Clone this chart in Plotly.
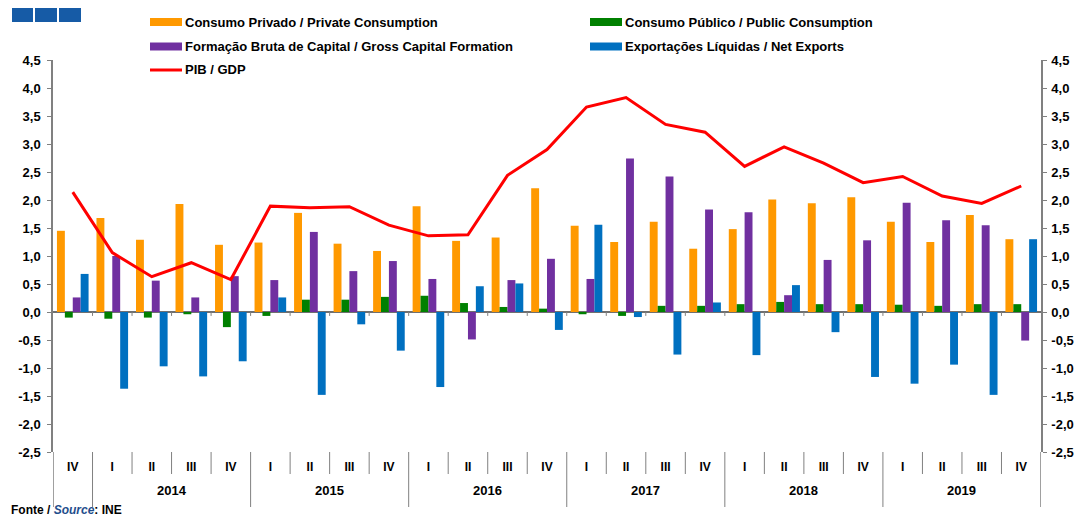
import plotly.graph_objects as go

quarters = ["IV", "I", "II", "III", "IV", "I", "II", "III", "IV", "I", "II", "III", "IV",
            "I", "II", "III", "IV", "I", "II", "III", "IV", "I", "II", "III", "IV"]
years = ["2014", "2015", "2016", "2017", "2018", "2019"]

private_consumption = [1.45, 1.68, 1.29, 1.93, 1.20, 1.24, 1.77, 1.22, 1.09, 1.89, 1.27, 1.33, 2.21,
                       1.54, 1.25, 1.61, 1.13, 1.48, 2.01, 1.94, 2.05, 1.61, 1.25, 1.73, 1.30]
public_consumption = [-0.10, -0.12, -0.10, -0.04, -0.27, -0.07, 0.22, 0.22, 0.27, 0.29, 0.16, 0.09, 0.06,
                      -0.04, -0.07, 0.11, 0.11, 0.14, 0.18, 0.14, 0.14, 0.13, 0.11, 0.14, 0.14]
capital_formation = [0.26, 1.00, 0.56, 0.26, 0.64, 0.57, 1.43, 0.73, 0.91, 0.59, -0.49, 0.57, 0.95,
                     0.59, 2.74, 2.42, 1.83, 1.78, 0.30, 0.93, 1.28, 1.95, 1.64, 1.55, -0.51]
net_exports = [0.68, -1.37, -0.97, -1.15, -0.88, 0.26, -1.48, -0.22, -0.69, -1.34, 0.46, 0.51, -0.32,
               1.56, -0.09, -0.76, 0.17, -0.77, 0.48, -0.36, -1.16, -1.28, -0.94, -1.48, 1.30]
gdp = [2.14, 1.06, 0.63, 0.88, 0.58, 1.89, 1.86, 1.88, 1.55, 1.36, 1.38, 2.44, 2.90,
       3.66, 3.83, 3.35, 3.21, 2.60, 2.95, 2.66, 2.31, 2.42, 2.07, 1.94, 2.25]

ytick_vals = [4.5, 4.0, 3.5, 3.0, 2.5, 2.0, 1.5, 1.0, 0.5, 0.0, -0.5, -1.0, -1.5, -2.0, -2.5]
ytick_text = ["4,5", "4,0", "3,5", "3,0", "2,5", "2,0", "1,5", "1,0", "0,5", "0,0",
              "-0,5", "-1,0", "-1,5", "-2,0", "-2,5"]

names = ["Consumo Privado / Private Consumption", "Consumo Público / Public Consumption",
         "Formação Bruta de Capital / Gross Capital Formation", "Exportações Líquidas / Net Exports",
         "PIB / GDP"]
colors = ["#FF9900", "#008000", "#7030A0", "#0070C0", "#FF0000"]

FONT = "Liberation Sans"
W, H = 1084, 517
ML, MR, MT, MB = 53, 43, 60, 65
PW, PH = W - ML - MR, H - MT - MB


def px_x(p):
    return (p - ML) / PW


def px_y(p):
    return (H - MB - p) / PH


idx = list(range(len(quarters)))

fig = go.Figure()
for vals, name, col in zip([private_consumption, public_consumption, capital_formation, net_exports],
                           names[:4], colors[:4]):
    fig.add_trace(go.Bar(x=idx, y=vals, name=name, showlegend=False,
                         marker=dict(color=col, line=dict(width=0))))
fig.add_trace(go.Scatter(x=idx, y=gdp, name=names[4], mode="lines", showlegend=False,
                         line=dict(color=colors[4], width=3)))
# mirror axis on the right
fig.add_trace(go.Scatter(x=idx, y=gdp, yaxis="y2", mode="lines", line=dict(width=0),
                         opacity=0, showlegend=False, hoverinfo="skip"))

n = len(quarters)
shapes = []
annotations = []
# separators in the category label area
for i in range(n - 1):
    b = i + 0.5
    year_boundary = (i % 4 == 0)
    shapes.append(dict(type="line", xref="x", yref="paper", x0=b, x1=b, y0=px_y(452),
                       y1=px_y(507) if year_boundary else px_y(474),
                       line=dict(color="#808080", width=1)))
    # small ticks on zero line
    shapes.append(dict(type="line", xref="x", yref="y", x0=b, x1=b, y0=0, y1=-0.07,
                       line=dict(color="#808080", width=1)))
# axis extensions into label area
for xe in [-0.5, n - 0.5]:
    shapes.append(dict(type="line", xref="x", yref="paper", x0=xe, x1=xe, y0=0, y1=px_y(507),
                       line=dict(color="#808080", width=1.5)))
# logo squares
for x0, x1 in [(12, 33), (35, 57), (59, 81)]:
    shapes.append(dict(type="rect", xref="paper", yref="paper", x0=px_x(x0), x1=px_x(x1),
                       y0=px_y(22), y1=px_y(8), fillcolor="#165BA6", line=dict(width=0)))

# legend (drawn manually to match the two-column layout)
legend_pos = [(150, 22), (590, 22), (150, 46.5), (590, 46.5), (150, 70)]
for k, (name, col) in enumerate(zip(names, colors)):
    lx, ly = legend_pos[k]
    if k < 4:
        shapes.append(dict(type="rect", xref="paper", yref="paper", x0=px_x(lx), x1=px_x(lx + 32),
                           y0=px_y(ly + 4), y1=px_y(ly - 4), fillcolor=col, line=dict(width=0)))
    else:
        shapes.append(dict(type="line", xref="paper", yref="paper", x0=px_x(lx), x1=px_x(lx + 32),
                           y0=px_y(ly), y1=px_y(ly), line=dict(color=col, width=3)))
    annotations.append(dict(x=px_x(lx + 33), y=px_y(ly), xref="paper", yref="paper", text=name,
                            xanchor="left", yanchor="middle", showarrow=False,
                            font=dict(family=FONT, size=13, color="black", weight="bold")))

for k, yr in enumerate(years):
    annotations.append(dict(x=2.5 + 4 * k, y=px_y(490), xref="x", yref="paper", text=yr,
                            showarrow=False, yanchor="middle",
                            font=dict(family=FONT, size=13, color="black", weight="bold")))
annotations.append(dict(x=px_x(9), y=px_y(510), xref="paper", yref="paper", xanchor="left",
                        yanchor="middle", showarrow=False,
                        text="Fonte / <i><span style='color:#1F4E8C'>Source</span></i>: INE",
                        font=dict(family=FONT, size=12, color="black", weight="bold")))

fig.update_layout(
    width=W, height=H,
    margin=dict(l=ML, r=MR, t=MT, b=MB),
    paper_bgcolor="white", plot_bgcolor="white",
    barmode="group", bargap=0.2, bargroupgap=0,
    showlegend=False,
    xaxis=dict(range=[-0.5, n - 0.5], tickmode="array", tickvals=idx, ticktext=quarters,
               showgrid=False, zeroline=False, showline=False, ticks="",
               ticklabelstandoff=6, automargin=False,
               tickfont=dict(family=FONT, size=12, color="black", weight="bold")),
    yaxis=dict(range=[-2.5, 4.5], tickmode="array", tickvals=ytick_vals, ticktext=ytick_text,
               showgrid=False, zeroline=True, zerolinecolor="#707070", zerolinewidth=1.5,
               showline=True, linecolor="#808080", linewidth=1.5,
               ticks="outside", ticklen=4, tickcolor="#808080", ticklabelstandoff=4,
               automargin=False,
               tickfont=dict(family=FONT, size=13, color="black", weight="bold")),
    yaxis2=dict(range=[-2.5, 4.5], overlaying="y", side="right", tickmode="array",
                tickvals=ytick_vals, ticktext=ytick_text, showgrid=False, zeroline=False,
                showline=True, linecolor="#808080", linewidth=1.5,
                ticks="outside", ticklen=4, tickcolor="#808080", ticklabelstandoff=2,
                automargin=False,
                tickfont=dict(family=FONT, size=13, color="black", weight="bold")),
    shapes=shapes,
    annotations=annotations,
)

fig.write_html("out.html", config={"displayModeBar": False},
               post_script="document.body.style.margin='0px';document.body.style.padding='0px';"
                           "document.body.style.overflow='hidden';")
